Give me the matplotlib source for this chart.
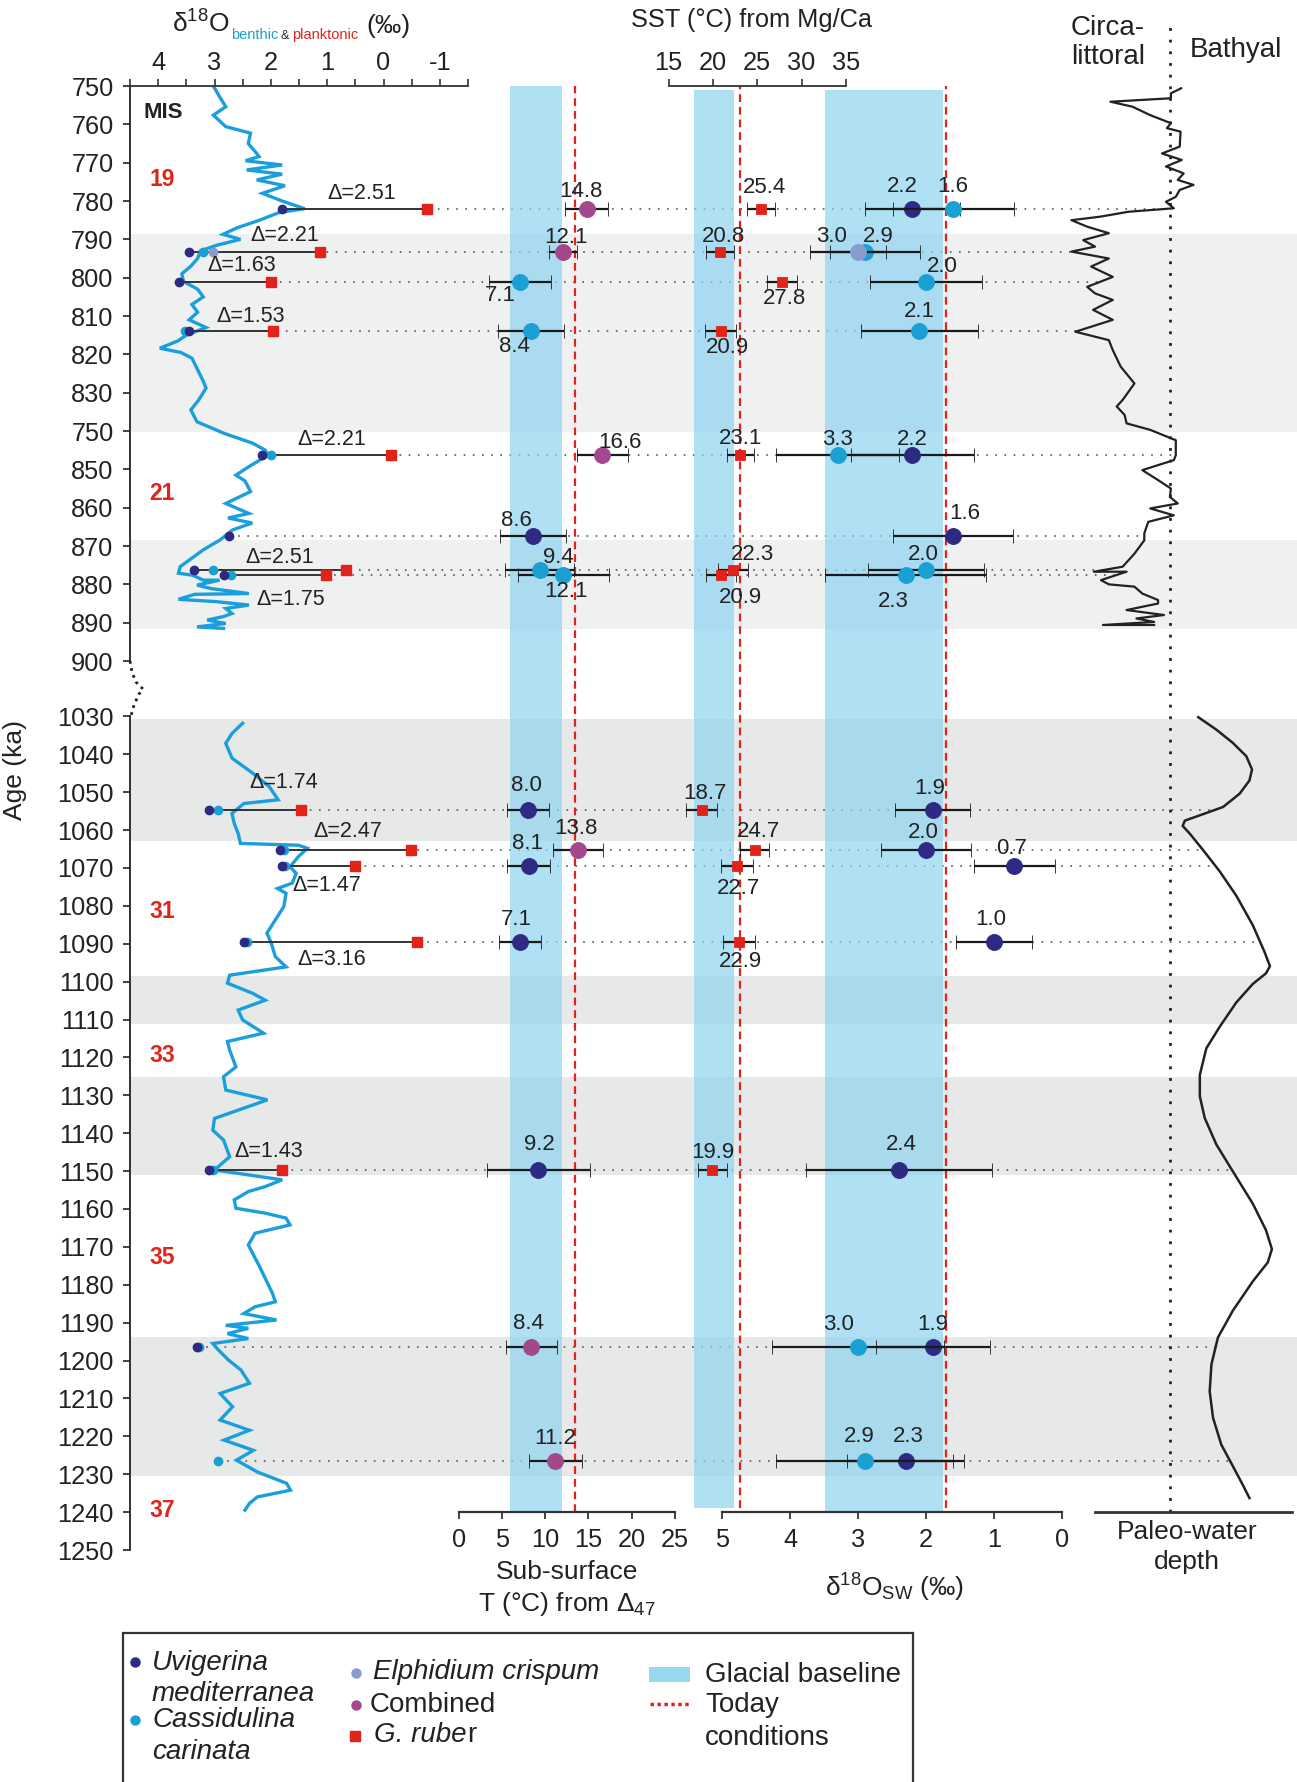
import numpy as np
import matplotlib
matplotlib.use("Agg")
import matplotlib.pyplot as plt
import matplotlib.transforms as mtransforms
from matplotlib.patches import Rectangle
from matplotlib.lines import Line2D
from matplotlib.ticker import NullLocator

plt.rcParams['font.family'] = ['Liberation Sans', 'DejaVu Sans']
plt.rcParams['mathtext.fontset'] = 'custom'
plt.rcParams['mathtext.rm'] = 'Liberation Sans'
plt.rcParams['mathtext.it'] = 'Liberation Sans:italic'
plt.rcParams['mathtext.bf'] = 'Liberation Sans:bold'
plt.rcParams['text.color'] = '#222222'

# ====================== DATA ======================
sample_age = [782, 793.2, 801, 813.9, 846.3, 867.4, 876.3, 877.5,
              1054.7, 1065.3, 1069.4, 1089.5, 1149.7, 1196.5, 1226.5]

# benthic / planktonic d18O (permil)
benthic_umed = [1.81, 3.46, 3.63, 3.45, 2.16, 2.74, 3.37, 2.84, 3.09, 1.84, 1.80, 2.48, 3.09, 3.31, None]
benthic_ccar = [None, 3.20, None, 3.53, 1.99, None, 3.02, 2.71, 2.93, 1.77, 1.75, 2.42, 3.03, 3.27, 2.94]
benthic_ecri = [None, 3.02, None, None, None, None, None, None, None, None, None, None, None, None, None]
planktonic_ruber = [-0.77, 1.12, 1.99, 1.97, -0.14, None, 0.67, 1.02, 1.46, -0.49, 0.50, -0.60, 1.80, None, None]
delta_text = ["Δ=2.51", "Δ=2.21", "Δ=1.63", "Δ=1.53", "Δ=2.21", None, "Δ=2.51", "Δ=1.75",
              "Δ=1.74", "Δ=2.47", "Δ=1.47", "Δ=3.16", "Δ=1.43", None, None]

# clumped-isotope sub-surface temperature (degC)
d47_species = ['comb', 'comb', 'ccar', 'ccar', 'comb', 'umed', 'ccar', 'ccar',
               'umed', 'comb', 'umed', 'umed', 'umed', 'comb', 'comb']
d47_temp = [14.8, 12.1, 7.1, 8.4, 16.6, 8.6, 9.4, 12.1, 8.0, 13.8, 8.1, 7.1, 9.2, 8.4, 11.2]
d47_err = [2.5, 1.6, 3.6, 3.8, 2.95, 3.85, 4.0, 5.25, 2.45, 2.85, 2.5, 2.45, 5.95, 2.95, 3.1]

# Mg/Ca SST (degC), G. ruber
sst_value = [25.4, 20.8, 27.8, 20.9, 23.1, None, 22.3, 20.9, 18.7, 24.7, 22.7, 22.9, 19.9, None, None]
sst_err = [1.55, 1.6, 1.65, 1.75, 1.55, None, 1.7, 1.65, 1.8, 1.65, 1.85, 1.8, 1.65, None, None]

# d18O seawater (permil)
sw_umed = [2.2, None, None, None, 2.2, 1.6, None, None, 1.9, 2.0, 0.7, 1.0, 2.4, 1.9, 2.3]
sw_umed_err = [0.7, None, None, None, 0.9, 0.88, None, None, 0.55, 0.66, 0.6, 0.56, 1.37, 0.84, 0.86]
sw_ccar = [1.6, 2.9, 2.0, 2.1, 3.3, None, 2.0, 2.3, None, None, None, None, None, 3.0, 2.9]
sw_ccar_err = [0.89, 0.81, 0.83, 0.86, 0.9, None, 0.86, 1.18, None, None, None, None, None, 1.27, 1.3]
sw_ecri = [None, 3.0, None, None, None, None, None, None, None, None, None, None, None, None, None]
sw_ecri_err = [None, 0.41, None, None, None, None, None, None, None, None, None, None, None, None, None]

# glacial baselines / today values
d47_baseline = (5.9, 11.95)
d47_today = 13.5
sst_baseline = (17.8, 22.4)
sst_today = 23.06
sw_baseline = (3.49, 1.75)
sw_today = 1.71

# glacial (even MIS) intervals, ka
glacial_start = [788.7, 868.4, 1030.8, 1098.5, 1125.1, 1193.7]
glacial_end = [840.2, 891.7, 1062.8, 1111.3, 1150.9, 1230.5]

mis_text = ["19", "21", "31", "33", "35", "37"]
mis_age = [774.5, 856.2, 1081.6, 1119.4, 1172.7, 1239.5]

ytick_age = list(range(750, 901, 10)) + list(range(1030, 1251, 10))
ytick_label = ["750" if a == 840 else str(a) for a in ytick_age]

# benthic d18O record (age ka, permil)
curve_top = [(750, 3.02), (752.8, 2.91), (755.4, 2.80), (757.6, 3.02), (760.6, 2.80), (762.3, 2.36),
             (765, 2.40), (767.6, 2.25), (768.4, 2.21), (769.5, 2.45), (770.6, 1.80), (771.9, 2.43),
             (773, 1.80), (774.5, 2.25), (776, 1.75), (778, 2.15), (780, 1.80), (782, 1.40),
             (783, 1.85), (785, 2.20), (787, 2.60), (788.7, 2.85), (790, 2.54), (791.5, 2.95),
             (793, 3.25), (795, 3.30), (797, 3.42), (799, 3.58), (801, 3.55), (803, 3.30),
             (805, 3.20), (807, 3.40), (809, 3.30), (811, 3.45), (813, 3.15), (815, 3.50),
             (816.5, 3.65), (818.4, 3.97), (819.5, 3.60), (821, 3.40), (824, 3.30), (827, 3.20),
             (828.8, 3.15), (831.9, 3.28), (834.5, 3.42), (837.6, 3.31), (840.6, 2.83), (843.2, 2.32),
             (845, 2.10), (846.3, 2.05), (849.3, 2.39), (851.5, 2.62), (853, 2.46), (855.8, 2.36),
             (858.9, 2.80), (861.5, 2.39), (862.7, 2.76), (864, 2.33), (865.8, 2.68), (868.4, 2.90),
             (871, 3.20), (875.4, 3.61), (877.1, 3.64), (877.6, 3.39), (878.9, 3.20), (878.9, 2.91),
             (880.2, 3.31), (881.1, 3.06), (882.4, 2.39), (882.6, 3.35), (883.9, 3.64), (884.5, 2.98),
             (885.4, 2.39), (886.3, 2.80), (887.6, 2.69), (888.4, 2.84), (889.3, 3.13), (890.2, 2.80),
             (891.1, 3.31), (891.5, 2.84)]
curve_bottom = [(1031.8, 2.50), (1034.5, 2.69), (1037.1, 2.80), (1041, 2.69), (1045, 2.32), (1048.5, 2.03),
                (1052, 1.87), (1053, 2.48), (1055.6, 2.69), (1058.2, 2.65), (1060.9, 2.58), (1063.5, 2.54),
                (1064, 1.51), (1064.8, 1.35), (1067, 1.51), (1069.7, 1.66), (1071.4, 1.55), (1074, 1.62),
                (1075.4, 1.88), (1076.7, 1.73), (1080.2, 1.77), (1083.7, 1.92), (1087.2, 2.07), (1089.5, 2.00),
                (1093.4, 1.92), (1096.1, 1.73), (1098.3, 2.73), (1100.4, 2.77), (1103.1, 2.32), (1104.9, 2.10),
                (1107.5, 2.58), (1110.1, 2.50), (1113.6, 2.13), (1115.8, 2.77), (1118.1, 2.73), (1122.5, 2.62),
                (1125.1, 2.84), (1128.6, 2.80), (1131.2, 2.06), (1136.1, 3.00), (1139.2, 3.03), (1141.8, 2.84),
                (1146.2, 2.73), (1149.7, 3.00), (1152.3, 1.80), (1154.1, 2.10), (1155.4, 2.40), (1157.6, 2.65),
                (1159.8, 2.62), (1161.1, 2.10), (1162.4, 1.73), (1164.2, 1.66), (1166.4, 2.28), (1169.5, 2.40),
                (1175.2, 2.20), (1182.3, 1.97), (1184.5, 1.92), (1185.8, 2.28), (1187.6, 2.48), (1189.3, 1.90),
                (1190.7, 2.80), (1191.5, 2.40), (1192.9, 2.77), (1194.2, 2.40), (1195.5, 3.03), (1196.9, 2.95),
                (1199.9, 2.75), (1202.5, 2.53), (1206, 2.38), (1208.7, 2.90), (1212.2, 2.68), (1215.7, 2.90),
                (1218.4, 2.38), (1221, 2.83), (1223.7, 2.31), (1226.3, 2.61), (1229.4, 2.24), (1232.4, 1.72),
                (1234.2, 1.65), (1236, 2.24), (1237.7, 2.38), (1239.5, 2.46)]

# paleo-water depth (relative position, 0 = shallow side of panel)
paleo_top = [(750.6, 0.437), (751.9, 0.385), (753.2, 0.385), (754.1, 0.078), (755.4, 0.19), (757.6, 0.28),
             (759.7, 0.385), (761.0, 0.365), (761.9, 0.434), (765.8, 0.43), (767.6, 0.34), (769.3, 0.44),
             (771.0, 0.36), (772.8, 0.45), (774.5, 0.42), (775.8, 0.50), (777.1, 0.43), (778.9, 0.41),
             (780.2, 0.36), (781.9, 0.40), (782.8, 0.17), (784.1, 0.025), (785.0, -0.12), (786.7, -0.04),
             (788.4, 0.07), (790.2, -0.06), (791.9, 0.0), (793.2, -0.12), (795.0, 0.07), (797.1, -0.02),
             (799.8, 0.09), (802.4, -0.04), (804.1, 0.0), (805.8, 0.09), (808.4, -0.01), (811.0, 0.09),
             (814.1, -0.10), (816.3, 0.07), (818.9, 0.09), (823.2, 0.13), (827.6, 0.20), (831.9, 0.14),
             (833.6, 0.11), (835.8, 0.15), (838.0, 0.16), (839.7, 0.28), (842.4, 0.41), (846.3, 0.41),
             (847.6, 0.40), (850.2, 0.24), (852.8, 0.32), (855.0, 0.385), (857.2, 0.38), (858.9, 0.42),
             (860.2, 0.28), (862.0, 0.40), (863.7, 0.27), (866.7, 0.25), (868.5, 0.25), (872.0, 0.20),
             (875.4, 0.14), (876.7, -0.006), (876.7, 0.16), (878.9, 0.03), (880.0, 0.07), (880.6, 0.20),
             (882.4, 0.24), (884.1, 0.32), (885.0, 0.32), (886.7, 0.16), (888.0, 0.35), (888.9, 0.21),
             (889.8, 0.30), (890.6, 0.04), (890.6, 0.30)]
paleo_bottom = [(1030.2, 0.524), (1033.5, 0.616), (1037.0, 0.700), (1040.5, 0.768), (1044.0, 0.797),
                (1046.9, 0.784), (1050.4, 0.734), (1053.9, 0.650), (1056.1, 0.532), (1057.5, 0.456),
                (1058.9, 0.445), (1061.0, 0.482), (1065.3, 0.549), (1070.9, 0.633), (1077.3, 0.717),
                (1085.1, 0.801), (1092.1, 0.860), (1095.9, 0.888), (1097.8, 0.868), (1100.6, 0.801),
                (1105.5, 0.717), (1111.9, 0.633), (1117.6, 0.565), (1124.6, 0.532), (1130.3, 0.532),
                (1136.0, 0.557), (1143.0, 0.616), (1150.1, 0.700), (1158.6, 0.801), (1165.6, 0.868),
                (1170.6, 0.898), (1174.1, 0.877), (1179.1, 0.801), (1186.8, 0.700), (1193.9, 0.624),
                (1201.0, 0.591), (1208.1, 0.582), (1215.1, 0.599), (1222.2, 0.641), (1227.9, 0.700),
                (1232.8, 0.750), (1236.3, 0.784)]
paleo_boundary = 0.38

# ====================== STYLE / LAYOUT ======================
C_UMED = '#2e2a84'
C_CCAR = '#1aa0d2'
C_ECRI = '#8a9bd0'
C_COMB = '#a4488e'
C_RED = '#e2231a'
C_CURVE = '#1a9fdc'
C_BAND = '#8fd3f0'
C_GREY_TOP = '#eff1f1'
C_GREY_BOT = '#e7e8e8'
species_color = {'umed': C_UMED, 'ccar': C_CCAR, 'comb': C_COMB, 'ecri': C_ECRI}

# label offsets (pixels, dx, dy up)
d47_lab_off = [(-6, 17), (3, 14), (-20, -14), (-17, -16), (18, 13), (-17, 16), (18, 13), (3, -17),
               (-1, 25), (-2, 22), (-1, 22), (-4, 22), (1, 25), (-3, 24), (0, 22)]
sst_lab_off = [(4, 21), (3, 15), (2, -17), (6, -17), (0, 17), None, (19, 16), (19, -23),
               (3, 17), (4, 19), (2, -23), (2, -20), (1, 17), None, None]
sw_umed_off = [(-10, 22), None, None, None, (0, 16), (12, 23), None, None,
               (-3, 22), (-3, 18), (-3, 17), (-3, 22), (3, 25), (0, 23), (3, 24)]
sw_ccar_off = [(0, 22), (13, 15), (16, 15), (0, 19), (0, 16), None, (-3, 16), (-12, -27),
               None, None, None, None, None, (-19, 23), (-6, 24)]
sw_ecri_off = [None, (-26, 15)] + [None] * 13
delta_pos = [(0.386, 778), (1.76, 789.1), (2.51, 796.9), (2.36, 810), (0.91, 842.1), None,
             (1.85, 873), (1.65, 883.9), (1.77, 1047.4), (0.64, 1060.4), (1.0, 1074.7),
             (0.92, 1094.1), (2.03, 1144.9), None, None]

W, H = 1297.0, 1782.0
TOP_PX, BOT_PX = 86.0, 1550.0
fig = plt.figure(figsize=(W / 100, H / 100), dpi=100)


def fx(px):
    return px / W


def fy(py):
    return 1.0 - py / H


GAP = 14.45
KB = 0.9884


def fwd(a):
    a = np.asarray(a, dtype=float)
    return np.where(a <= 900, a,
                    np.where(a < 1030, 900 + (a - 900) * GAP / 130.0,
                             900 + GAP + (a - 1030) * KB))


def inv(t):
    t = np.asarray(t, dtype=float)
    return np.where(t <= 900, t,
                    np.where(t < 900 + GAP, 900 + (t - 900) * 130.0 / GAP,
                             1030 + (t - 900 - GAP) / KB))


def make_axes(x0, x1, xlim):
    ax = fig.add_axes([fx(x0), fy(BOT_PX), (x1 - x0) / W, (BOT_PX - TOP_PX) / H])
    ax.set_yscale('function', functions=(fwd, inv))
    ax.set_ylim(1250, 750)
    ax.set_xlim(*xlim)
    ax.patch.set_visible(False)
    for s in ax.spines.values():
        s.set_visible(False)
    ax.tick_params(axis='both', which='both', left=False, labelleft=False, bottom=False,
                   labelbottom=False, top=False, labeltop=False, right=False, labelright=False)
    ax.yaxis.set_minor_locator(NullLocator())
    ax.xaxis.set_minor_locator(NullLocator())
    return ax


def arr(x):
    return np.array(x, dtype=float)


ages = arr(sample_age)
SPINE_FR = 0.026

# ---------------- main (background) axes ----------------
ax_main = make_axes(130, 1297, (0, 1))
for a0, a1 in zip(glacial_start, glacial_end):
    ax_main.axhspan(a0, a1, color=C_GREY_TOP if a1 < 950 else C_GREY_BOT, lw=0, zorder=0)
ax_main.set_yticks(ytick_age)
ax_main.set_yticklabels(ytick_label)
ax_main.yaxis.set_minor_locator(NullLocator())
ax_main.tick_params(axis='y', left=True, labelleft=True, length=4.8, width=1.2, pad=7,
                    labelsize=18.3, color='#222222', labelcolor='#222222')
blend = mtransforms.blended_transform_factory(ax_main.transAxes, ax_main.transData)
ax_main.plot([0, 0], [750, 900], transform=blend, color='#222222', lw=1.3, clip_on=False, zorder=6)
ax_main.plot([0, 0], [1030, 1250], transform=blend, color='#222222', lw=1.3, clip_on=False, zorder=6)
# axis break (dotted squiggle)
brk_dx = np.array([0, 2, 6, 13, 9, 4, 1]) / 1167.0
brk_py = np.array([661, 672, 682, 689, 694, 705, 716])
brk_age = 900 + (brk_py - 661) / 55.4 * 130
ax_main.plot(brk_dx, brk_age, transform=blend, color='#222222', lw=2.0, ls=(0, (1, 1.6)),
             clip_on=False, zorder=6)
ax_main.set_ylabel("Age (ka)", fontsize=19, color='#222222')
ax_main.yaxis.set_label_coords(-(130 - 27) / 1167.0, (BOT_PX - 770) / (BOT_PX - TOP_PX))

ax_main.text((162.8 - 130) / 1167.0, 756.8, "MIS", transform=blend, ha='center', va='center',
             fontsize=16, fontweight='bold', color='#222222')
for t, a in zip(mis_text, mis_age):
    ax_main.text((162 - 130) / 1167.0, a, t, transform=blend, ha='center', va='center',
                 fontsize=16.5, fontweight='bold', color=C_RED)

# ---------------- panels ----------------
ax_t = make_axes(458.7, 674.7, (0, 25))          # sub-surface T (D47)
ax_s = make_axes(668.75, 845.8, (15, 35))        # SST Mg/Ca
ax_w = make_axes(722, 1062, (5, 0))              # d18O seawater
ax_p = make_axes(1060, 1292, (-0.178, 1.0))      # paleo-water depth
ax_d = make_axes(130, 468, (4.5, -1.5))          # d18O benthic & planktonic

band_kw = dict(color=C_BAND, alpha=0.7, lw=0, zorder=1)
dash_kw = dict(color=C_RED, lw=1.6, ls=(0, (3.5, 2.2)), zorder=2)
ax_t.axvspan(*d47_baseline, ymin=SPINE_FR, ymax=1.0, **band_kw)
ax_t.axvline(d47_today, ymin=SPINE_FR, ymax=1.0, **dash_kw)
ax_s.axvspan(*sst_baseline, ymin=0.029, ymax=0.997, **band_kw)
ax_s.axvline(sst_today, ymin=0.029, ymax=1.0, **dash_kw)
ax_w.axvspan(*sw_baseline, ymin=SPINE_FR, ymax=0.997, **band_kw)
ax_w.axvline(sw_today, ymin=0.029, ymax=1.0, **dash_kw)

# axes decorations
for ax, ticks in [(ax_t, [0, 5, 10, 15, 20, 25]), (ax_w, [5, 4, 3, 2, 1, 0])]:
    ax.spines['bottom'].set_visible(True)
    ax.spines['bottom'].set_position(('axes', SPINE_FR))
    ax.spines['bottom'].set_linewidth(1.6)
    ax.spines['bottom'].set_color('#333333')
    ax.set_xticks(ticks)
    ax.set_xticklabels([str(v) for v in ticks])
    ax.tick_params(axis='x', bottom=True, labelbottom=True, length=4.8, width=1.3, pad=7,
                   labelsize=18.3, color='#333333', labelcolor='#222222')

ax_d.spines['top'].set_visible(True)
ax_d.spines['top'].set_linewidth(1.3)
ax_d.spines['top'].set_color('#333333')
d_ticks = np.arange(-1.5, 4.51, 0.5)
ax_d.set_xticks(d_ticks)
ax_d.set_xticklabels([str(int(v)) if float(v).is_integer() else "" for v in d_ticks])
ax_d.tick_params(axis='x', top=True, labeltop=True, length=4.8, width=1.2, pad=3,
                 labelsize=18.3, color='#333333', labelcolor='#222222')

ax_s.spines['top'].set_visible(True)
ax_s.spines['top'].set_linewidth(1.3)
ax_s.spines['top'].set_color('#333333')
ax_s.set_xticks([15, 20, 25, 30, 35])
ax_s.set_xticklabels(["15", "20", "25", "30", "35"])
ax_s.tick_params(axis='x', top=True, labeltop=True, length=4.8, width=1.2, pad=3,
                 labelsize=18.3, color='#333333', labelcolor='#222222')

ax_p.spines['bottom'].set_visible(True)
ax_p.spines['bottom'].set_position(('axes', SPINE_FR))
ax_p.spines['bottom'].set_bounds(0, 1)
ax_p.spines['bottom'].set_linewidth(2.0)
ax_p.spines['bottom'].set_color('#333333')
ax_p.axvline(paleo_boundary, ymin=SPINE_FR, ymax=1.045, color='#222222', lw=2.0,
             ls=(0, (1, 3.2)), clip_on=False, zorder=2)
pt = np.array(paleo_top)
pb = np.array(paleo_bottom)
ax_p.plot(pt[:, 1], pt[:, 0], color='#222222', lw=1.6, zorder=3, clip_on=False)
ax_p.plot(pb[:, 1], pb[:, 0], color='#222222', lw=1.8, zorder=3, clip_on=False,
          solid_joinstyle='round')

# ---------------- d18O benthic / planktonic panel ----------------
ct = np.array(curve_top)
cb = np.array(curve_bottom)
ax_d.plot(ct[:, 1], ct[:, 0], color=C_CURVE, lw=2.4, zorder=2, solid_joinstyle='miter')
ax_d.plot(cb[:, 1], cb[:, 0], color=C_CURVE, lw=2.4, zorder=2, solid_joinstyle='miter')

bu, bc, be, pr = arr(benthic_umed), arr(benthic_ccar), arr(benthic_ecri), arr(planktonic_ruber)
fig.canvas.draw()
paleo_all = np.vstack([pt, pb])
inv_main = ax_main.transAxes.inverted()
for i, age in enumerate(ages):
    start = np.nanmax([bu[i], bc[i], be[i]])
    x0 = inv_main.transform(ax_d.transData.transform((start, age)))[0]
    # dotted guide runs to the paleo-water-depth curve
    u_end = np.interp(age, paleo_all[:, 0], paleo_all[:, 1])
    x1 = inv_main.transform(ax_p.transData.transform((u_end, age)))[0]
    ax_main.axhline(age, xmin=x0, xmax=x1, color='#555555', lw=1.2, ls=(0, (1, 4.5)), zorder=1)
    if not np.isnan(pr[i]):
        ax_d.plot([start, pr[i]], [age, age], color='#333333', lw=1.4, zorder=3)

ax_d.plot(bc, ages, 'o', ms=6, mfc=C_CCAR, mec=C_CCAR, zorder=4, ls='none')
ax_d.plot(be, ages, 'o', ms=6, mfc=C_ECRI, mec=C_ECRI, zorder=4, ls='none')
ax_d.plot(bu, ages, 'o', ms=6, mfc=C_UMED, mec=C_UMED, zorder=5, ls='none')
ax_d.plot(pr, ages, 's', ms=7, mfc=C_RED, mec=C_RED, zorder=5, ls='none')
for txt, pos in zip(delta_text, delta_pos):
    if txt is not None:
        ax_d.text(pos[0], pos[1], txt, ha='center', va='center', fontsize=15.5, color='#222222', zorder=6)


# ---------------- error-bar series ----------------
def series(ax, vals, errs, color, marker='o', ms=11.5, z=5):
    v, e = arr(vals), arr(errs)
    m = ~np.isnan(v)
    ax.errorbar(v[m], ages[m], xerr=e[m], fmt=marker, ms=ms, mfc=color, mec=color, mew=0.6,
                ecolor='#1a1a1a', elinewidth=1.6, capsize=4.7, capthick=1.6, zorder=z, clip_on=False)


def labels(ax, vals, offs, fmt="{:.1f}"):
    for v, a, off in zip(vals, ages, offs):
        if v is None or off is None:
            continue
        ax.annotate(fmt.format(v), (v, a), xytext=(off[0] * 0.72, off[1] * 0.72),
                    textcoords='offset points', ha='center', va='center', fontsize=16,
                    color='#222222', zorder=8)


# D47
for sp in ['umed', 'ccar', 'comb']:
    vals = [v if s == sp else None for v, s in zip(d47_temp, d47_species)]
    series(ax_t, vals, d47_err, species_color[sp])
labels(ax_t, d47_temp, d47_lab_off)

# SST
series(ax_s, sst_value, sst_err, C_RED, marker='s', ms=7.5)
labels(ax_s, sst_value, sst_lab_off)

# d18O seawater
series(ax_w, sw_umed, sw_umed_err, C_UMED)
series(ax_w, sw_ccar, sw_ccar_err, C_CCAR, z=6)
series(ax_w, sw_ecri, sw_ecri_err, C_ECRI, z=7)
labels(ax_w, sw_umed, sw_umed_off)
labels(ax_w, sw_ccar, sw_ccar_off)
labels(ax_w, sw_ecri, sw_ecri_off)

# ---------------- titles & axis labels ----------------
t_a = fig.text(fx(172), fy(33), "δ$^{18}$O", fontsize=19, ha='left', va='baseline')
t_b = ax_main.annotate("benthic", xy=(1, 0), xycoords=t_a, xytext=(1, -3), textcoords='offset points',
                       fontsize=10.5, color=C_CCAR, ha='left', va='bottom', annotation_clip=False)
t_c = ax_main.annotate("&", xy=(1, 0), xycoords=t_b, xytext=(2, 0), textcoords='offset points',
                       fontsize=9, color='#222222', ha='left', va='bottom', annotation_clip=False)
t_d = ax_main.annotate("planktonic", xy=(1, 0), xycoords=t_c, xytext=(2, 0), textcoords='offset points',
                       fontsize=10.5, color=C_RED, ha='left', va='bottom', annotation_clip=False)
t_e = ax_main.annotate("(‰)", xy=(1, 0), xycoords=(t_d, t_a), xytext=(6, 0), textcoords='offset points',
                       fontsize=19, color='#222222', ha='left', va='bottom', annotation_clip=False)

fig.text(fx(752), fy(20), "SST (°C) from Mg/Ca", fontsize=18.3, ha='center', va='center')
fig.text(fx(1108), fy(28), "Circa-", fontsize=20, ha='center', va='center')
fig.text(fx(1108), fy(57), "littoral", fontsize=20, ha='center', va='center')
fig.text(fx(1236), fy(50), "Bathyal", fontsize=20, ha='center', va='center')

fig.text(fx(567), fy(1572), "Sub-surface", fontsize=19, ha='center', va='center')
fig.text(fx(567), fy(1604), "T (°C) from Δ$_{47}$", fontsize=19, ha='center', va='center')
fig.text(fx(895), fy(1588), "δ$^{18}$O$_{\\mathrm{SW}}$ (‰)", fontsize=19, ha='center', va='center')
fig.text(fx(1187), fy(1532), "Paleo-water", fontsize=19, ha='center', va='center')
fig.text(fx(1187), fy(1562), "depth", fontsize=19, ha='center', va='center')

# ---------------- legend ----------------
fig.add_artist(Rectangle((fx(122.7), fy(1800)), (913 - 122.7) / W, (1800 - 1632.7) / H,
                         transform=fig.transFigure, fill=False, lw=1.6, ec='#333333', clip_on=False))
LFS = 20


def ldot(x, y, color, marker='o', ms=6.5):
    fig.add_artist(Line2D([fx(x)], [fy(y)], marker=marker, ms=ms, mfc=color, mec=color, ls='none',
                          transform=fig.transFigure))


def ltext(x, y, s, italic=False):
    return fig.text(fx(x), fy(y), s, fontsize=LFS, ha='left', va='center',
                    style='italic' if italic else 'normal')


ldot(135, 1662, C_UMED)
ltext(152, 1663, "Uvigerina", True)
ltext(152, 1694, "mediterranea", True)
ldot(135, 1720, C_CCAR)
ltext(152, 1720, "Cassidulina", True)
ltext(152, 1752, "carinata", True)
ldot(356, 1673, C_ECRI)
ltext(373, 1672, "Elphidium crispum", True)
ldot(356, 1705, C_COMB)
ltext(370, 1705, "Combined")
ldot(355, 1736, C_RED, marker='s', ms=6.5)
g1 = ltext(374, 1735, "G. rube", True)
ax_main.annotate("r", xy=(1, 0), xycoords=g1, xytext=(0.5, 0), textcoords='offset points',
                 fontsize=LFS, ha='left', va='bottom', annotation_clip=False)
fig.add_artist(Rectangle((fx(649), fy(1682)), 41 / W, 15 / H, transform=fig.transFigure,
                         color=C_BAND, alpha=0.9, lw=0))
ltext(705, 1675, "Glacial baseline")
fig.add_artist(Line2D([fx(650), fx(690)], [fy(1704), fy(1704)], color=C_RED, lw=2.5,
                      ls=(0, (1, 1)), transform=fig.transFigure))
ltext(705, 1705, "Today")
ltext(705, 1738, "conditions")

fig.savefig("out.png", dpi=100)
